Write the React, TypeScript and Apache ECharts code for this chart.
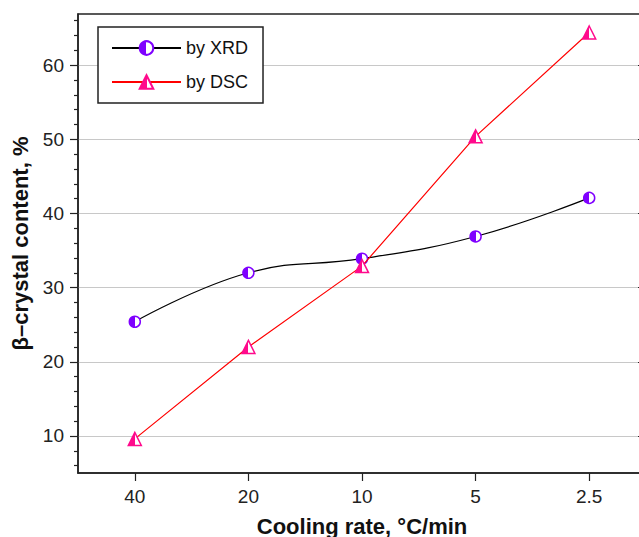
import React, { useEffect, useRef } from "react";
import * as echarts from "echarts";

const categories = ["40", "20", "10", "5", "2.5"];
const xrdValues = [25.4, 32.0, 33.9, 36.9, 42.1];
const dscValues = [9.6, 22.0, 32.9, 50.4, 64.4];
const majorTicks = [10, 20, 30, 40, 50, 60];
const minorTicks = [6, 8, 12, 14, 16, 18, 22, 24, 26, 28, 32, 34, 36, 38, 42, 44, 46, 48, 52, 54, 56, 58, 62, 64, 66];

const FONT = "Liberation Sans, Arial, sans-serif";
const XRD_COLOR = "#7f00ff";
const DSC_COLOR = "#ff0a8c";

function halfFill(color: string) {
  return new echarts.graphic.LinearGradient(0, 0, 1, 0, [
    { offset: 0, color },
    { offset: 0.5, color },
    { offset: 0.5, color: "#ffffff" },
    { offset: 1, color: "#ffffff" },
  ]);
}

export default function App() {
  const ref = useRef<HTMLDivElement>(null);
  useEffect(() => {
    if (!ref.current) return;
    const chart = echarts.init(ref.current, null, { renderer: "svg" });
    const yMin = 5;
    const yMax = 66.9;
    const baseY = {
      type: "value",
      min: yMin,
      max: yMax,
      splitLine: { show: false },
      axisLabel: { show: false },
      axisLine: { show: false },
      axisTick: { show: false },
    };
    chart.setOption({
      animation: false,
      backgroundColor: "#ffffff",
      grid: {
        left: 78,
        top: 14,
        right: 1,
        bottom: 64,
        show: true,
        borderColor: "#222",
        borderWidth: 1.5,
        backgroundColor: "transparent",
        outerBoundsMode: "none",
        containLabel: false,
      },
      legend: {
        left: 98,
        top: 27,
        orient: "vertical",
        padding: [12, 15, 12, 13],
        itemGap: 16,
        itemWidth: 69,
        itemHeight: 17,
        borderColor: "#222",
        borderWidth: 1.5,
        backgroundColor: "#ffffff",
        textStyle: { fontSize: 18, color: "#111", fontFamily: FONT },
        data: ["by XRD", "by DSC"],
      },
      xAxis: {
        type: "category",
        data: categories,
        boundaryGap: true,
        name: "Cooling rate, °C/min",
        nameLocation: "middle",
        nameGap: 42,
        nameTextStyle: { fontSize: 22, fontWeight: "bold", color: "#111", fontFamily: FONT },
        axisLine: { show: true, lineStyle: { color: "#222", width: 1.5 } },
        axisTick: { show: true, alignWithLabel: true, length: 8, lineStyle: { color: "#222", width: 1.2 } },
        axisLabel: { fontSize: 19, color: "#222", margin: 14, fontFamily: FONT },
        splitLine: { show: false },
      },
      yAxis: [
        {
          ...baseY,
          position: "left",
          name: "β–crystal content, %",
          nameLocation: "middle",
          nameGap: 41,
          nameTextStyle: { fontSize: 22, fontWeight: "bold", color: "#111", fontFamily: FONT },
          axisLine: { show: true, lineStyle: { color: "#222", width: 1.5 } },
          axisTick: { show: true, length: 8, customValues: majorTicks, lineStyle: { color: "#222", width: 1.2 } },
          axisLabel: { show: true, fontSize: 19, color: "#222", margin: 14, fontFamily: FONT, customValues: majorTicks },
          splitLine: { show: true, lineStyle: { color: "#c8c8c8", width: 1.2 } },
        },
        {
          ...baseY,
          position: "left",
          axisTick: { show: true, length: 4, customValues: minorTicks, lineStyle: { color: "#222", width: 1.2 } },
        },
        {
          ...baseY,
          position: "right",
          axisTick: { show: true, inside: true, length: 8, customValues: majorTicks, lineStyle: { color: "#222", width: 1.2 } },
        },
      ],
      series: [
        {
          name: "by XRD",
          type: "line",
          data: xrdValues,
          smooth: 0.45,
          symbol: "circle",
          symbolSize: 11,
          lineStyle: { color: "#000", width: 1.2 },
          itemStyle: { color: halfFill(XRD_COLOR), borderColor: XRD_COLOR, borderWidth: 1.5 },
          z: 3,
        },
        {
          name: "by DSC",
          type: "line",
          data: dscValues,
          smooth: false,
          symbol: "triangle",
          symbolSize: 13,
          lineStyle: { color: "#ff0000", width: 1.2 },
          itemStyle: { color: halfFill(DSC_COLOR), borderColor: DSC_COLOR, borderWidth: 1.5 },
          z: 4,
        },
      ],
    });
    return () => chart.dispose();
  }, []);
  return (
    <div style={{ position: "absolute", left: 0, top: 0, width: 639, height: 537, overflow: "hidden", background: "#fff" }}>
      <div ref={ref} style={{ width: 647, height: 537 }} />
    </div>
  );
}
